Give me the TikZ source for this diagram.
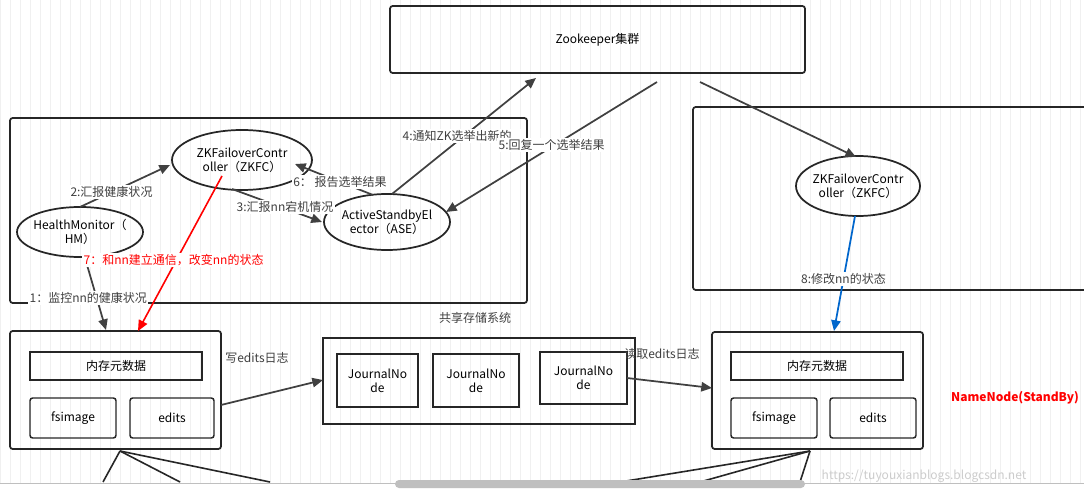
\documentclass[tikz,border=0pt]{standalone}
\usepackage{fontspec}
\setmainfont{Noto Sans CJK SC}
\usetikzlibrary{arrows.meta}
\begin{document}
\begin{tikzpicture}[x=0.75pt,y=-0.75pt,font=\fontsize{9}{10.5}\selectfont,
 box/.style={draw=black!85,line width=1.3pt,rounded corners=2pt},
 ib/.style={draw=black!85,line width=1.1pt},
 ell/.style={draw=black!85,line width=1.3pt},
 arr/.style={draw=black!75,line width=1.3pt,-{Triangle[length=8pt,width=7pt]}},
 lab/.style={text=black!75,fill=white,inner sep=1pt}]
\useasboundingbox (0,0) rectangle (1084,495);
\fill[white] (0,0) rectangle (1084,495);
\draw[black!6] (0,0) grid[step=10] (1084,495);
% boxes
\node[box,minimum width=415*0.75pt,minimum height=67*0.75pt] (zk) at (597.5,39.5) {Zookeeper集群};
\node[box,minimum width=517*0.75pt,minimum height=185*0.75pt] (lg) at (268.5,210.5) {};
\draw[box] (1090,107) -- (693,107) -- (693,290) -- (1090,290);
\draw[ell] (242,160) ellipse (70 and 30); \node[align=center] (zkfc) at (242,160) {ZKFailoverContr\\oller（ZKFC）};
\draw[ell] (80,232) ellipse (63 and 25); \node[align=center] (hm) at (80,232) {HealthMonitor（\\HM）};
\draw[ell] (387,222) ellipse (63 and 28); \node[align=center] (ase) at (387,222) {ActiveStandbyEl\\ector（ASE）};
\draw[ell] (858,186) ellipse (62 and 30); \node[align=center] (rzk) at (858,186) {ZKFailoverContr\\oller（ZKFC）};
% left NN
\node[box,minimum width=211*0.75pt,minimum height=118*0.75pt] (lnn) at (115.5,390) {};
\node[ib,minimum width=172*0.75pt,minimum height=28*0.75pt] (lm) at (116,366) {内存元数据};
\node[ib,rounded corners=2pt,minimum width=86*0.75pt,minimum height=40*0.75pt] (lf) at (73,418) {fsimage};
\node[ib,rounded corners=2pt,minimum width=84*0.75pt,minimum height=40*0.75pt] (le) at (172,418) {edits};
% JN
\node[box,rounded corners=0pt,minimum width=312*0.75pt,minimum height=86*0.75pt] (jn) at (479,381) {};
\node[ib,align=center,minimum width=81*0.75pt,minimum height=53*0.75pt] (j1) at (377.5,380.5) {JournalNo\\de};
\node[ib,align=center,minimum width=86*0.75pt,minimum height=53*0.75pt] (j2) at (476,380.5) {JournalNo\\de};
\node[ib,align=center,minimum width=87*0.75pt,minimum height=52*0.75pt] (j3) at (583.5,378) {JournalNo\\de};
% right NN
\node[box,minimum width=211*0.75pt,minimum height=117*0.75pt] (rnn) at (817.5,390.5) {};
\node[ib,minimum width=172*0.75pt,minimum height=28*0.75pt] (rm) at (817,366) {内存元数据};
\node[ib,rounded corners=2pt,minimum width=86*0.75pt,minimum height=40*0.75pt] (rf) at (774,418) {fsimage};
\node[ib,rounded corners=2pt,minimum width=86*0.75pt,minimum height=40*0.75pt] (re) at (873,418) {edits};
% arrows
\coordinate (a1) at (80,207); \coordinate (a2) at (170,165);
\draw[arr] (a1) -- node[lab,pos=0.35]{2:汇报健康状况} (a2);
\coordinate (b1) at (85,258); \coordinate (b2) at (106,330);
\draw[arr] (b1) -- (b2); \node[lab,anchor=west] (l1) at (28,298) {1：监控nn的健康状况};
\coordinate (c1) at (222,176); \coordinate (c2) at (138,331);
\draw[arr,draw=red,-{Triangle[length=8pt,width=7pt]},line width=1.2pt] (c1) -- (c2);
\node[text=red,fill=white,anchor=west,inner sep=1pt] (l7) at (82,260) {7：和nn建立通信，改变nn的状态};
\coordinate (d1) at (232,189); \coordinate (d2) at (322,222);
\draw[arr] (d1) -- (d2); \node[lab] (l3) at (285,207) {3:汇报nn宕机情况};
\coordinate (e1) at (373,195); \coordinate (e2) at (295,164);
\draw[arr] (e1) -- (e2); \node[lab] (l6) at (340,182) {6：\ 报告选举结果};
\coordinate (f1) at (392,194); \coordinate (f2) at (536,78);
\draw[arr] (f1) -- (f2); \node[lab,anchor=west] (l4) at (401,136) {4:通知ZK选举出新的...};
\coordinate (g1) at (657,82); \coordinate (g2) at (446,212);
\draw[arr] (g1) -- (g2); \node[lab,anchor=west] (l5) at (497,145) {5:回复一个选举结果};
\coordinate (h1) at (700,82); \coordinate (h2) at (856,157);
\draw[arr] (h1) -- (h2);
\coordinate (i1) at (855,216); \coordinate (i2) at (834,331);
\draw[arr,draw={rgb,255:red,0;green,102;blue,204},-{Triangle[length=8pt,width=7pt]}] (i1) -- node[lab,pos=0.55]{8:修改nn的状态} (i2);
\coordinate (k1) at (221,405); \coordinate (k2) at (323,380);
\draw[arr] (k1) -- (k2); \node[text=black!75] (lw) at (257,358) {写edits日志};
\coordinate (m1) at (627,378); \coordinate (m2) at (712,388);
\draw[arr] (m1) -- (m2); \node[text=black!75] (lr) at (662,354) {读取edits日志};
\node[text=black!75] (share) at (475,318) {共享存储系统};
\node[text=red,font=\fontsize{9}{10}\selectfont\bfseries] (sb) at (1015,398) {NameNode(StandBy)};
% bottom lines
\coordinate (p0) at (120,451); \coordinate (q0) at (810,451);
\foreach \x in {103,180,270} \draw[black!85,line width=1.2pt] (p0) -- (\x,482);
\foreach \x in {620,700,800} \draw[black!85,line width=1.2pt] (q0) -- (\x,482);
\node[text=black!20,anchor=west] (wm) at (817,476) {https://tuyouxianblogs.blogcsdn.net};
\fill[white] (0,483) rectangle (1084,495);
\draw[black!25] (0,483) -- (1084,483);
\fill[black!25,rounded corners=3pt] (395,480) rectangle (805,488);
\end{tikzpicture}
\end{document}
